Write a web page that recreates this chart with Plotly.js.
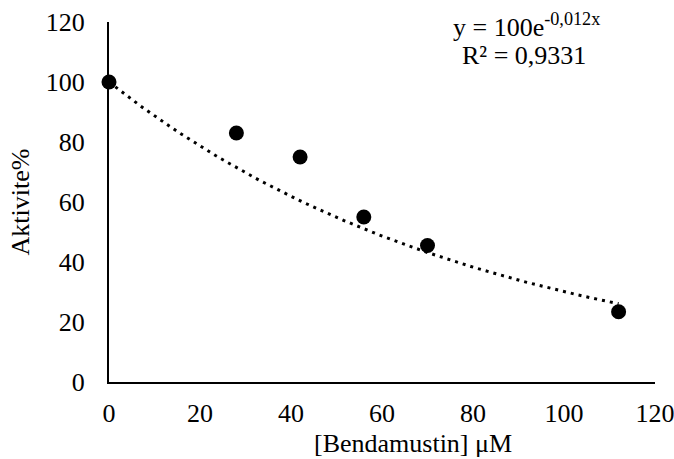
<!DOCTYPE html>
<html>
<head>
<meta charset="utf-8">
<script src="https://cdn.plot.ly/plotly-3.0.1.min.js"></script>
<style>html,body{margin:0;padding:0;background:#fff;}#chart{width:674px;height:459px;}</style>
</head>
<body>
<div id="chart"></div>
<script>
const concentrations = [0, 28, 42, 56, 70, 112];
const activity = [100, 83, 75, 55, 45.5, 23.4];
const fitA = 100;      // from the trendline label
const fitB = -0.012;   // from the trendline label
const xTicks = [0, 20, 40, 60, 80, 100, 120];
const yTicks = [0, 20, 40, 60, 80, 100, 120];
const xTitle = '[Bendamustin] μM';
const yTitle = 'Aktivite%';

const xMax = Math.max(...concentrations);
const trendX = [];
const trendY = [];
for (let i = 0; i <= 100; i++) {
  const x = xMax * i / 100;
  trendX.push(x);
  trendY.push(fitA * Math.exp(fitB * x));
}

const font = {family: 'Liberation Serif, Times New Roman, serif', size: 26, color: '#000'};

const data = [
  {x: trendX, y: trendY, mode: 'lines', type: 'scatter',
   line: {color: '#000', width: 3, dash: '3px,5px'}, hoverinfo: 'skip', cliponaxis: false},
  {x: concentrations, y: activity, mode: 'markers', type: 'scatter',
   marker: {color: '#000', size: 15}, cliponaxis: false}
];

const layout = {
  width: 674, height: 459,
  margin: {l: 109, r: 19, t: 22, b: 77},
  showlegend: false,
  paper_bgcolor: '#fff', plot_bgcolor: '#fff',
  font: font,
  xaxis: {range: [0, 120], tickvals: xTicks, showgrid: false, zeroline: false,
          showline: true, linecolor: '#000', linewidth: 2,
          ticks: 'outside', ticklen: 7, tickcolor: 'rgba(0,0,0,0)',
          ticklabeloverflow: 'allow',
          tickfont: font},
  yaxis: {range: [0, 120], tickvals: yTicks, showgrid: false, zeroline: false,
          showline: true, linecolor: '#000', linewidth: 2,
          ticks: 'outside', ticklen: 17, tickcolor: 'rgba(0,0,0,0)',
          ticklabeloverflow: 'allow',
          tickfont: font,
          title: {text: yTitle, font: font, standoff: 9}},
  annotations: [
    {xref: 'paper', yref: 'paper', x: 0.557, y: -0.172, xanchor: 'center', yanchor: 'middle',
     text: xTitle, showarrow: false, font: font},
    {xref: 'paper', yref: 'paper', x: 0.764, y: 0.99, xanchor: 'center', yanchor: 'middle',
     text: 'y = 100e<sup>-0,012x</sup>', showarrow: false, font: font},
    {xref: 'paper', yref: 'paper', x: 0.76, y: 0.907, xanchor: 'center', yanchor: 'middle',
     text: 'R² = 0,9331', showarrow: false, font: font}
  ]
};

Plotly.newPlot('chart', data, layout, {displayModeBar: false, staticPlot: true});
</script>
</body>
</html>
